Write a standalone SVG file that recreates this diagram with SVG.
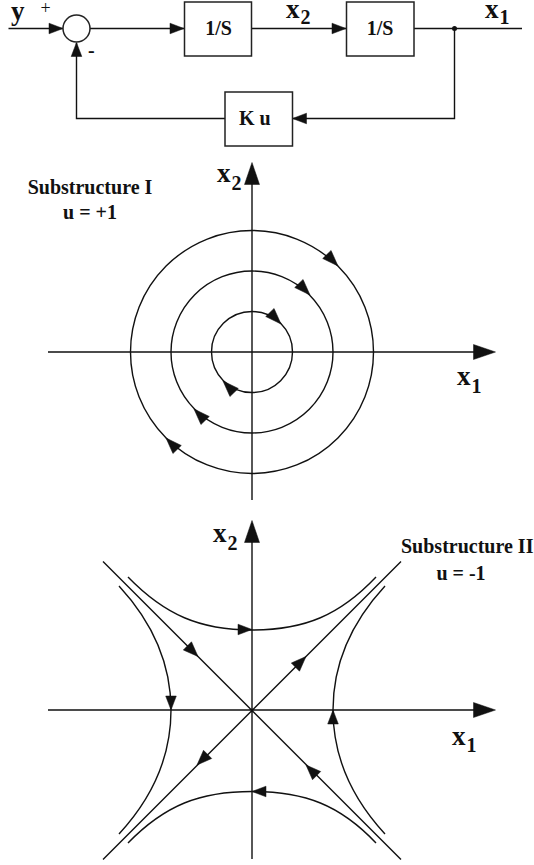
<svg xmlns="http://www.w3.org/2000/svg" width="534" height="865" viewBox="0 0 534 865">
<style>
.l{fill:none;stroke:#111;stroke-width:1.4}
.b{fill:#fff;stroke:#222;stroke-width:1.5}
.t{font-family:"Liberation Serif",serif;font-weight:bold;fill:#111;font-size:20px}
.v{font-family:"Liberation Serif",serif;font-weight:bold;fill:#111;font-size:27px}
.s{font-size:20px}
.m{text-anchor:middle}
.h{fill:#111;stroke:#111;stroke-width:0.5}
</style>
<defs>
<path id="a" class="h" d="M0,0L-14,-5.300L-14,5.300Z"/>
<path id="d" class="h" d="M0,0L-15,-5.800L-15,5.800Z"/>
<path id="c" class="h" d="M0,0L-16,-5.800L-16,5.800Z"/>
<path id="e" class="h" d="M0,0L-22,-7.500L-22,7.500Z"/>
</defs>
<rect width="534" height="865" fill="#fff"/>
<g id="connectors">
<path class="l" d="M8.500,28.500H63M90,28.500H184M251,28.500H346M414,28.500H522M454.500,28.500V118.500H292M225,118.500H76.500V43"/>
<use href="#a" transform="translate(63,28.500)"/>
<use href="#a" transform="translate(184,28.500)"/>
<use href="#a" transform="translate(346,28.500)"/>
<use href="#a" transform="translate(292.500,118.500) rotate(180)"/>
<use href="#a" transform="translate(76.500,42.500) rotate(-90)"/>
<circle cx="454.500" cy="28.500" r="2.500" fill="#111"/>
</g>
<g id="sum"><circle class="b" cx="76.500" cy="28.500" r="13.500"/></g>
<g id="int1"><rect class="b" x="184.500" y="2" width="67" height="54"/><text class="t m" x="218.500" y="35">1/S</text></g>
<g id="int2"><rect class="b" x="346.500" y="2" width="67.500" height="54"/><text class="t m" x="380" y="35">1/S</text></g>
<g id="gain"><rect class="b" x="225" y="92" width="67.500" height="54"/><text class="t" x="239" y="125">K u</text></g>
<g id="labels-top">
<text class="v" x="11" y="19.500">y</text>
<text x="40.500" y="14" font-size="18" font-family="Liberation Serif,serif" fill="#111">+</text>
<text class="t" x="88" y="57">-</text>
<text class="v" x="286" y="18">x<tspan class="s" dx="1" dy="6">2</tspan></text>
<text class="v" x="485" y="17.500">x<tspan class="s" dx="1" dy="6">1</tspan></text>
</g>
<g id="plot1">
<path class="l" d="M48,352H480M252,170V500"/>
<circle class="l" cx="252" cy="352" r="40.500"/>
<circle class="l" cx="252" cy="352" r="81"/>
<circle class="l" cx="252" cy="352" r="121.500"/>
<use href="#e" transform="translate(495.500,352)"/>
<use href="#e" transform="translate(252,162.500) rotate(-90)"/>
<use href="#c" transform="translate(281,324) rotate(46)"/>
<use href="#c" transform="translate(310,295) rotate(46)"/>
<use href="#c" transform="translate(338,266) rotate(46)"/>
<use href="#c" transform="translate(223,381) rotate(226)"/>
<use href="#c" transform="translate(194,409) rotate(226)"/>
<use href="#c" transform="translate(166,438) rotate(226)"/>
<text class="t m" x="90" y="194">Substructure I</text>
<text class="t m" x="90" y="219">u = +1</text>
<text class="v" x="217" y="182">x<tspan class="s" dx="1" dy="8">2</tspan></text>
<text class="v" x="457" y="385">x<tspan class="s" dx="1" dy="8">1</tspan></text>
</g>
<g id="plot2">
<path class="l" d="M48,710H480M252,530V859M103,561.500L401,859.500M401,561.500L103,859.500"/>
<path class="l" d="M128,577C165,615 200,630 252,630C305,630 340,615 376,577"/>
<path class="l" d="M128,843C165,805 200,791.500 252,791.500C305,791.500 340,805 376,843"/>
<path class="l" d="M119,586C155,625 171,665 171,710C171,755 155,795 119,834"/>
<path class="l" d="M385,586C349,625 333,665 333,710C333,755 349,795 385,834"/>
<use href="#e" transform="translate(495.500,710)"/>
<use href="#e" transform="translate(252,520.500) rotate(-90)"/>
<use href="#a" transform="translate(252,629.500)"/>
<use href="#a" transform="translate(252,791.500) rotate(180)"/>
<use href="#a" transform="translate(171,710) rotate(90)"/>
<use href="#a" transform="translate(333,710) rotate(-90)"/>
<use href="#d" transform="translate(198,656.500) rotate(45)"/>
<use href="#d" transform="translate(306,765) rotate(225)"/>
<use href="#d" transform="translate(306,656.500) rotate(-45)"/>
<use href="#d" transform="translate(197,765) rotate(135)"/>
<text class="t" x="401" y="552.500">Substructure II</text>
<text class="t m" x="461" y="580">u = -1</text>
<text class="v" x="213" y="541.500">x<tspan class="s" dx="1" dy="8">2</tspan></text>
<text class="v" x="452" y="745">x<tspan class="s" dx="1" dy="7">1</tspan></text>
</g>
</svg>
